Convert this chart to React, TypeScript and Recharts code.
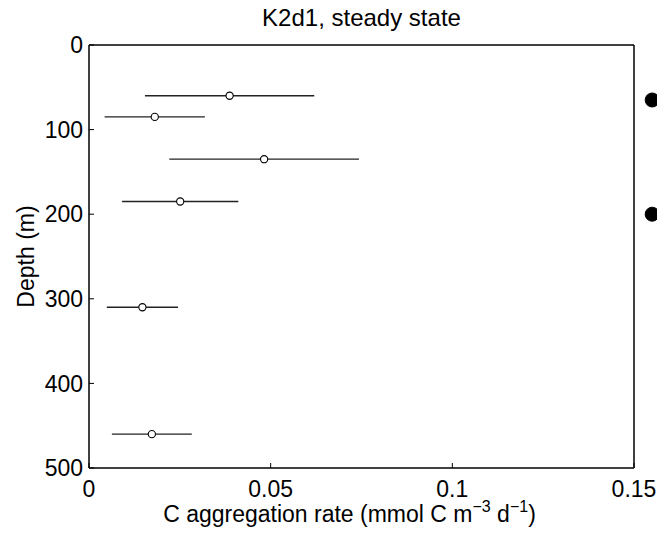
import React from 'react';
import {
  ScatterChart,
  Scatter,
  XAxis,
  YAxis,
  ErrorBar,
  ReferenceDot,
  Label,
} from 'recharts';

// Data
const depths = [60, 85, 135, 185, 310, 460];
const rates = [0.0387, 0.0181, 0.0482, 0.0251, 0.0147, 0.0173];
const rateErrors = [0.0233, 0.0138, 0.0261, 0.016, 0.0098, 0.011];
const rateTicks = [0, 0.05, 0.1, 0.15];
const depthTicks = [0, 100, 200, 300, 400, 500];
// big filled markers that are cut off at the right edge
const edgeMarkerDepths = [65, 200];
const edgeMarkerRate = 0.155;

const points = depths.map((depth, i) => ({
  depth,
  rate: rates[i],
  err: rateErrors[i],
}));

const FONT = '"Liberation Sans", Arial, Helvetica, sans-serif';
const tickStyle = { fill: '#000', fontSize: 23, fontFamily: FONT };

const OpenCircle = (props: any) => (
  <circle cx={props.cx} cy={props.cy} r={3.6} fill="#fff" stroke="#000" strokeWidth={1.1} />
);

const XTitle = (props: any) => {
  const vb = props.viewBox || {};
  const cx = vb.x + vb.width / 2 - 12;
  return (
    <text x={cx} y={vb.y + 54} textAnchor="middle" fontSize={23} fontFamily={FONT} fill="#000">
      C aggregation rate (mmol C m
      <tspan dy={-10} fontSize={16}>−3</tspan>
      <tspan dy={10}> d</tspan>
      <tspan dy={-10} fontSize={16}>−1</tspan>
      <tspan dy={10}>)</tspan>
    </text>
  );
};

const YTitle = (props: any) => {
  const vb = props.viewBox || {};
  const x = vb.x + 5;
  const y = vb.y + vb.height / 2;
  return (
    <text
      x={x}
      y={y}
      transform={`rotate(-90 ${x} ${y})`}
      textAnchor="middle"
      fontSize={23}
      fontFamily={FONT}
      fill="#000"
    >
      Depth (m)
    </text>
  );
};

export default function App() {
  return (
    <div style={{ width: 657, height: 535, background: '#fff' }}>
      <style>{'body{margin:0;}'}</style>
      <ScatterChart
        width={657}
        height={535}
        margin={{ top: 44, right: 22, left: 29, bottom: 7 }}
      >
        <XAxis
          type="number"
          dataKey="rate"
          domain={[0, 0.15]}
          ticks={rateTicks}
          interval={0}
          height={60}
          tick={tickStyle}
          tickSize={-5}
          tickMargin={18}
          axisLine={{ stroke: '#000', strokeWidth: 1.5 }}
          tickLine={{ stroke: '#000', strokeWidth: 1 }}
        >
          <Label content={XTitle} />
        </XAxis>
        {/* top frame edge with inward ticks, carries the title */}
        <XAxis
          xAxisId="top"
          orientation="top"
          type="number"
          domain={[0, 0.15]}
          allowDataOverflow
          ticks={rateTicks}
          interval={0}
          height={1}
          tick={false}
          tickSize={-5}
          axisLine={{ stroke: '#000', strokeWidth: 1.5 }}
          tickLine={{ stroke: '#000', strokeWidth: 1 }}
        >
          <Label
            value="K2d1, steady state"
            position="top"
            offset={18}
            style={{ fontSize: 24, fontFamily: FONT, fill: '#000' }}
          />
        </XAxis>
        <YAxis
          type="number"
          dataKey="depth"
          domain={[0, 500]}
          reversed
          ticks={depthTicks}
          interval={0}
          width={60}
          tick={tickStyle}
          tickSize={-5}
          tickMargin={11}
          axisLine={{ stroke: '#000', strokeWidth: 1.5 }}
          tickLine={{ stroke: '#000', strokeWidth: 1 }}
        >
          <Label content={YTitle} />
        </YAxis>
        {/* right frame edge with inward ticks */}
        <YAxis
          yAxisId="right"
          orientation="right"
          type="number"
          domain={[0, 500]}
          allowDataOverflow
          reversed
          ticks={depthTicks}
          interval={0}
          width={1}
          tick={false}
          tickSize={-5}
          axisLine={{ stroke: '#000', strokeWidth: 1.5 }}
          tickLine={{ stroke: '#000', strokeWidth: 1 }}
        />
        <Scatter data={points} shape={OpenCircle} isAnimationActive={false}>
          <ErrorBar dataKey="err" direction="x" width={0} stroke="#222" strokeWidth={1.3} />
        </Scatter>
        {edgeMarkerDepths.map((d) => (
          <ReferenceDot
            key={d}
            x={edgeMarkerRate}
            y={d}
            r={7}
            fill="#000"
            stroke="#000"
            ifOverflow="visible"
          />
        ))}
      </ScatterChart>
    </div>
  );
}
